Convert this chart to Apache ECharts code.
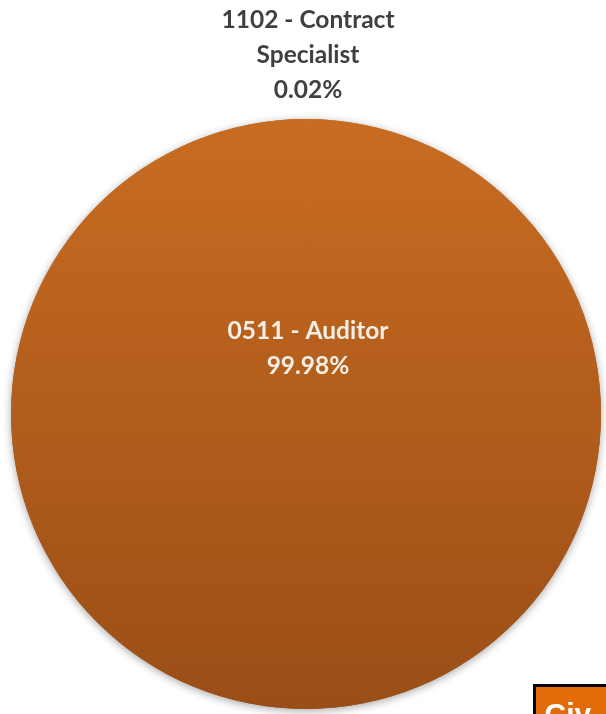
<!DOCTYPE html>
<html>
<head>
<meta charset="utf-8">
<script src="https://cdn.jsdelivr.net/npm/echarts@6/dist/echarts.min.js"></script>
<style>
html,body{margin:0;padding:0;background:#fff;}
#chart{width:606px;height:714px;}
</style>
</head>
<body>
<div id="chart"></div>
<script>
const categories = ['0511 - Auditor', '1102 - Contract Specialist'];
const shares = [99.98, 0.02];
const labelLines = [['0511 - Auditor'], ['1102 - Contract', 'Specialist']];

const chart = echarts.init(document.getElementById('chart'), null, {renderer: 'canvas'});
const cx = 306, cy = 414, r = 295;

function fillGrad() {
  return new echarts.graphic.LinearGradient(0, 0, 0, 1, [
    {offset: 0, color: '#c86c22'},
    {offset: 0.5, color: '#b25d1c'},
    {offset: 1, color: '#9a4e17'}
  ]);
}

const data = categories.map((c, i) => ({
  name: c,
  value: shares[i],
  label: {
    color: i === 0 ? '#f4efe6' : '#404040'
  }
}));

chart.setOption({
  backgroundColor: '#ffffff',
  animation: false,
  series: [{
    type: 'pie',
    silent: true,
    z: 1,
    center: [cx, cy],
    radius: [0, r],
    startAngle: 90,
    clockwise: true,
    data: categories.map((c, i) => ({name: c, value: shares[i]})),
    itemStyle: {
      color: fillGrad(),
      shadowBlur: 8,
      shadowColor: 'rgba(0,0,0,0.35)',
      shadowOffsetY: 2
    },
    label: {show: false},
    labelLine: {show: false},
    emphasis: {disabled: true}
  }, {
    type: 'pie',
    z: 2,
    center: [cx, cy],
    radius: [0, r],
    startAngle: 90,
    clockwise: true,
    avoidLabelOverlap: false,
    data: data,
    itemStyle: {
      color: fillGrad(),
      borderWidth: 0
    },
    label: {
      show: true,
      position: 'outside',
      fontFamily: 'Lato, "Open Sans", sans-serif',
      fontWeight: 'bold',
      fontSize: 24.5,
      lineHeight: 35,
      align: 'center',
      formatter: p => labelLines[p.dataIndex].join('\n') + '\n' + p.value.toFixed(2) + '%'
    },
    labelLine: {show: false},
    labelLayout: function (p) {
      if (p.dataIndex === 0) {
        return {x: 308, y: 349, align: 'center', verticalAlign: 'middle'};
      }
      return {x: 308, y: 55, align: 'center', verticalAlign: 'middle'};
    },
    emphasis: {disabled: true}
  }],
  graphic: [{
    type: 'group',
    left: 533,
    top: 684,
    children: [
      {type: 'rect', shape: {x: 0, y: 0, width: 80, height: 40},
       style: {fill: '#e36c0a', stroke: '#000000', lineWidth: 3}},
      {type: 'text', x: 10, y: 15,
       style: {text: 'Civ', fill: '#ffffff', font: 'bold 30px "Liberation Sans", Arial, sans-serif'}}
    ]
  }]
});
</script>
</body>
</html>
